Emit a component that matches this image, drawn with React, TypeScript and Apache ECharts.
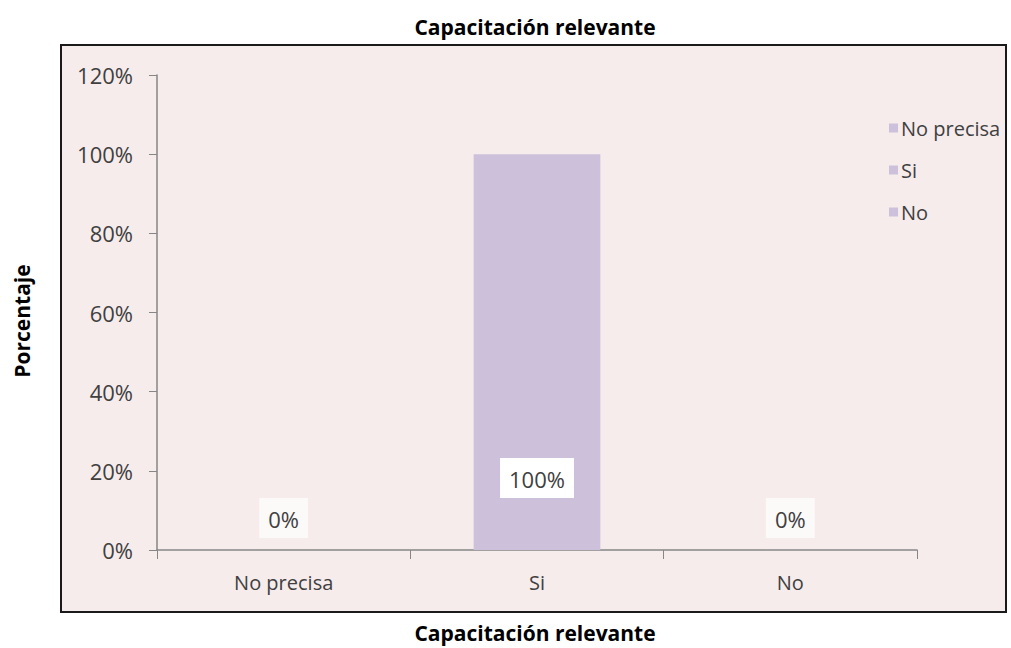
import React, { useEffect, useRef } from "react";
import * as echarts from "echarts";

const categories = ["No precisa", "Si", "No"];
const values = [0, 100, 0];
const yTicks = [0, 20, 40, 60, 80, 100, 120];
const titleText = "Capacitación relevante";
const xTitle = "Capacitación relevante";
const yTitle = "Porcentaje";

const FONT = "'Open Sans', 'Noto Sans', sans-serif";
const BAR = "#ccc0da";

export default function App() {
  const ref = useRef<HTMLDivElement>(null);
  useEffect(() => {
    const chart = echarts.init(ref.current!, undefined, { renderer: "svg" });
    const series = categories.map((name, i) => ({
      name,
      type: "bar",
      stack: "all",
      barWidth: "50%",
      itemStyle: { color: BAR },
      data: categories.map((_, j) => {
        if (j !== i) return "-";
        const v = values[j];
        return {
          value: v,
          label: {
            show: true,
            position: v > 0 ? "insideBottom" : "top",
            distance: v > 0 ? 52 : 12,
            formatter: "{c}%",
            color: "#404040",
            fontSize: 22,
            fontFamily: FONT,
            backgroundColor: v > 0 ? "#ffffff" : "#fcf9f9",
            padding: [10, 9, 8, 9],
          },
        };
      }),
    }));
    chart.setOption({
      animation: false,
      backgroundColor: "#ffffff",
      textStyle: { fontFamily: FONT },
      graphic: [
        {
          type: "rect",
          z: -10,
          shape: { x: 61, y: 45, width: 945, height: 567 },
          style: { fill: "#f6ecec", stroke: "#1a1a1a", lineWidth: 2 },
          silent: true,
        },
        {
          type: "text",
          x: 535,
          y: 27,
          style: {
            text: titleText,
            font: `bold 21px ${FONT}`,
            fill: "#000000",
            textAlign: "center",
            textVerticalAlign: "middle",
          },
        },
        {
          type: "text",
          x: 535,
          y: 633,
          style: {
            text: xTitle,
            font: `bold 21px ${FONT}`,
            fill: "#000000",
            textAlign: "center",
            textVerticalAlign: "middle",
          },
        },
        {
          type: "text",
          x: 22,
          y: 321,
          rotation: Math.PI / 2,
          style: {
            text: yTitle,
            font: `bold 21px ${FONT}`,
            fill: "#000000",
            textAlign: "center",
            textVerticalAlign: "middle",
          },
        },
      ],
      legend: {
        orient: "vertical",
        left: 884,
        top: 113,
        itemWidth: 9,
        itemHeight: 9,
        itemGap: 22,
        icon: "rect",
        data: categories,
        textStyle: { color: "#404040", fontSize: 20, fontFamily: FONT, padding: [0, 0, 0, -2] },
      },
      grid: { left: 157, right: 94, top: 75, bottom: 98 },
      xAxis: {
        type: "category",
        data: categories,
        axisLine: { lineStyle: { color: "#868686", width: 1.5 } },
        axisTick: { show: true, length: 9, lineStyle: { color: "#868686" } },
        axisLabel: { color: "#404040", fontSize: 20, margin: 22, fontFamily: FONT },
      },
      yAxis: {
        type: "value",
        min: 0,
        max: 120,
        interval: 20,
        axisLine: { show: true, lineStyle: { color: "#868686", width: 1.5 } },
        axisTick: { show: true, length: 8, lineStyle: { color: "#868686" } },
        splitLine: { show: false },
        axisLabel: {
          color: "#404040",
          fontSize: 22,
          margin: 24,
          fontFamily: FONT,
          formatter: (v: number) => (yTicks.includes(v) ? `${v}%` : ""),
        },
      },
      series,
    });
    return () => chart.dispose();
  }, []);
  return (
    <div
      ref={ref}
      style={{ position: "fixed", left: 0, top: 0, width: 1011, height: 648 }}
    />
  );
}
